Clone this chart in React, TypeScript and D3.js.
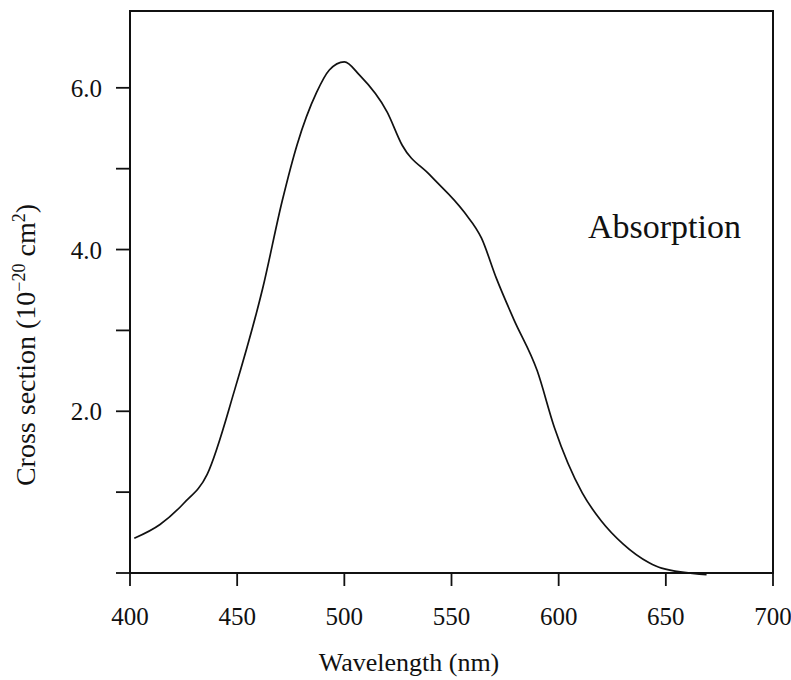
import React from "react";
import * as d3 from "d3";

const wavelengths = [402, 414, 425, 436, 449, 462, 471, 478, 487, 493, 500, 507, 520, 527, 540, 556, 564, 571, 579, 590, 598, 611, 620, 630, 642, 648, 669];
const crossSection = [0.43, 0.6, 0.86, 1.22, 2.28, 3.53, 4.6, 5.3, 5.94, 6.22, 6.32, 6.16, 5.7, 5.29, 4.92, 4.46, 4.14, 3.64, 3.14, 2.5, 1.8, 0.99, 0.64, 0.36, 0.13, 0.06, -0.02];
const xTicks = [400, 450, 500, 550, 600, 650, 700];
const yTicks = [0, 1, 2, 3, 4, 5, 6];
const yTickLabels: Record<number, string> = { 2: "2.0", 4: "4.0", 6: "6.0" };

const FONT = "'Liberation Serif', 'Times New Roman', serif";

export default function App() {
  const x = d3.scaleLinear().domain([400, 700]).range([130, 773]);
  const y = d3.scaleLinear().domain([0, 6.95]).range([573, 11]);
  const data = wavelengths.map((w, i) => [w, crossSection[i]] as [number, number]);
  const line = d3
    .line<[number, number]>()
    .x((d) => x(d[0]))
    .y((d) => y(d[1]))
    .curve(d3.curveMonotoneX);

  const [x0, x1] = x.range();
  const [yb, yt] = y.range();

  return (
    <svg
      width={791}
      height={680}
      style={{ position: "absolute", left: 0, top: 0, background: "#fff" }}
    >
      <rect x={0} y={0} width={791} height={680} fill="#fff" />
      {/* frame */}
      <rect x={x0} y={yt} width={x1 - x0} height={yb - yt} fill="none" stroke="#111" strokeWidth={2} />
      {/* x ticks */}
      {xTicks.map((t) => (
        <g key={"xt" + t}>
          <line x1={x(t)} x2={x(t)} y1={yb} y2={yb + 13} stroke="#111" strokeWidth={1.8} />
          <text
            x={x(t)}
            y={yb + 52}
            textAnchor="middle"
            fontFamily={FONT}
            fontSize={25}
            fill="#111"
          >
            {t}
          </text>
        </g>
      ))}
      {/* y ticks */}
      {yTicks.map((t) => (
        <g key={"yt" + t}>
          <line x1={x0 - 14} x2={x0} y1={y(t)} y2={y(t)} stroke="#111" strokeWidth={1.8} />
          {yTickLabels[t] && (
            <text
              x={102}
              y={y(t) + 9}
              textAnchor="end"
              fontFamily={FONT}
              fontSize={25}
              fill="#111"
            >
              {yTickLabels[t]}
            </text>
          )}
        </g>
      ))}
      {/* curve */}
      <path d={line(data) || ""} fill="none" stroke="#111" strokeWidth={1.7} />
      {/* annotation */}
      <text x={588} y={238} fontFamily={FONT} fontSize={34} fill="#111">
        Absorption
      </text>
      {/* x label */}
      <text x={409} y={671} textAnchor="middle" fontFamily={FONT} fontSize={26} fill="#111">
        Wavelength (nm)
      </text>
      {/* y label */}
      <text
        transform="translate(35,345) rotate(-90)"
        textAnchor="middle"
        fontFamily={FONT}
        fontSize={28}
        fill="#111"
      >
        Cross section (10
        <tspan dy={-10} fontSize={18}>−20</tspan>
        <tspan dy={10}> cm</tspan>
        <tspan dy={-10} fontSize={18}>2</tspan>
        <tspan dy={10}>)</tspan>
      </text>
    </svg>
  );
}
